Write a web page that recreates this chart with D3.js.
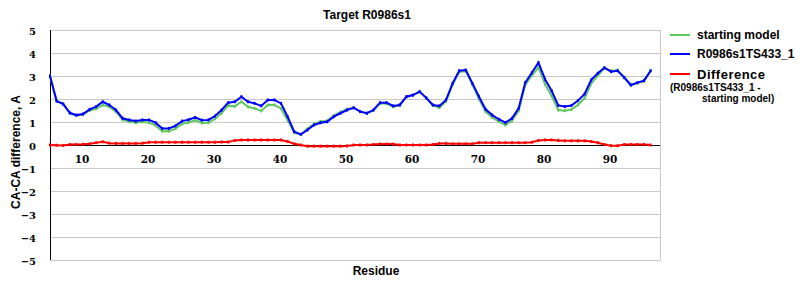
<!DOCTYPE html>
<html>
<head>
<meta charset="utf-8">
<script src="https://cdn.jsdelivr.net/npm/d3@7"></script>
<style>
    body { margin: 0; background: #fff; }
    .lbl { font-family: "Liberation Sans", Arial, sans-serif; font-weight: bold; }
    .tick { font-family: "DejaVu Serif", serif; font-weight: bold; font-size: 10px; }
</style>
</head>
<body>
<div id="chart"></div>
<script>
/* global d3 */
var firstResidue = 5;

var startingModel = [3.0, 1.92, 1.80, 1.38, 1.28, 1.32, 1.50, 1.57, 1.74, 1.66,
    1.45, 1.09, 1.02, 0.97, 1.01, 0.97, 0.85, 0.60, 0.60, 0.71,
    0.92, 0.98, 1.08, 0.96, 0.97, 1.14, 1.39, 1.71, 1.68, 1.88,
    1.66, 1.59, 1.48, 1.74, 1.74, 1.59, 1.08, 0.53, 0.46, 0.70,
    0.92, 1.02, 1.06, 1.28, 1.43, 1.56, 1.62, 1.45, 1.38, 1.50,
    1.80, 1.80, 1.66, 1.74, 2.10, 2.17, 2.32, 2.05, 1.72, 1.63,
    1.89, 2.63, 3.18, 3.21, 2.63, 2.00, 1.45, 1.20, 1.02, 0.87,
    1.06, 1.49, 2.61, 3.02, 3.38, 2.64, 2.14, 1.52, 1.49, 1.54,
    1.75, 2.04, 2.68, 3.02, 3.34, 3.22, 3.26, 2.92, 2.59, 2.69,
    2.78, 3.23];

var modelTS433 = [3.0, 1.91, 1.78, 1.40, 1.30, 1.35, 1.55, 1.67, 1.88, 1.74,
    1.52, 1.16, 1.09, 1.04, 1.09, 1.09, 0.97, 0.72, 0.72, 0.83,
    1.04, 1.10, 1.20, 1.08, 1.09, 1.26, 1.52, 1.84, 1.88, 2.10,
    1.88, 1.81, 1.70, 1.96, 1.96, 1.81, 1.23, 0.58, 0.46, 0.65,
    0.87, 0.97, 1.01, 1.23, 1.38, 1.52, 1.62, 1.45, 1.38, 1.52,
    1.84, 1.84, 1.70, 1.74, 2.10, 2.17, 2.32, 2.05, 1.74, 1.70,
    1.96, 2.68, 3.23, 3.26, 2.68, 2.10, 1.55, 1.30, 1.12, 0.97,
    1.16, 1.59, 2.71, 3.14, 3.58, 2.86, 2.36, 1.72, 1.67, 1.72,
    1.93, 2.22, 2.83, 3.12, 3.36, 3.19, 3.23, 2.94, 2.61, 2.71,
    2.80, 3.23];

var difference = [0.0, -0.01, -0.02, 0.02, 0.02, 0.03, 0.05, 0.10, 0.14, 0.08,
    0.07, 0.07, 0.07, 0.07, 0.08, 0.12, 0.12, 0.12, 0.12, 0.12,
    0.12, 0.12, 0.12, 0.12, 0.12, 0.12, 0.13, 0.13, 0.20, 0.22,
    0.22, 0.22, 0.22, 0.22, 0.22, 0.22, 0.15, 0.05, 0.0, -0.05,
    -0.05, -0.05, -0.05, -0.05, -0.05, -0.04, 0.0, 0.0, 0.0, 0.02,
    0.04, 0.04, 0.04, 0.0, 0.0, 0.0, 0.0, 0.0, 0.02, 0.07,
    0.07, 0.05, 0.05, 0.05, 0.05, 0.10, 0.10, 0.10, 0.10, 0.10,
    0.10, 0.10, 0.10, 0.12, 0.20, 0.22, 0.22, 0.20, 0.18, 0.18,
    0.18, 0.18, 0.15, 0.10, 0.02, -0.03, -0.03, 0.02, 0.02, 0.02,
    0.02, 0.0];

var xTicks = [10, 20, 30, 40, 50, 60, 70, 80, 90];
var yTicks = [5, 4, 3, 2, 1, 0, -1, -2, -3, -4, -5];

var seriesList = [
    {name: "starting model", values: startingModel, color: "#5fc95f"},
    {name: "R0986s1TS433_1", values: modelTS433, color: "#0000ff"},
    {name: "Difference", values: difference, color: "#ff0000"}
];

var width = 800, height = 300;
var svg = d3.select("#chart").append("svg")
        .attr("width", width)
        .attr("height", height);

var x = d3.scaleLinear()
        .domain([5, 97.42])
        .range([50, 660]);

var y = d3.scaleLinear()
        .domain([-5, 5])
        .range([260, 30]);

// grid
svg.append("g")
        .selectAll("line")
        .data(yTicks)
        .enter()
        .append("line")
        .attr("x1", 50)
        .attr("x2", 660)
        .attr("y1", function (d) { return y(d) + 0.5; })
        .attr("y2", function (d) { return y(d) + 0.5; })
        .attr("stroke", "#c8c8c8")
        .attr("stroke-width", 1);

svg.append("line")
        .attr("x1", 660.5).attr("x2", 660.5)
        .attr("y1", 30).attr("y2", 260)
        .attr("stroke", "#c8c8c8");

// zero line + y axis
svg.append("line")
        .attr("x1", 50).attr("x2", 660)
        .attr("y1", y(0) + 0.5).attr("y2", y(0) + 0.5)
        .attr("stroke", "#000");
svg.append("line")
        .attr("x1", 50.5).attr("x2", 50.5)
        .attr("y1", 30).attr("y2", 260)
        .attr("stroke", "#000");

// tick labels
svg.append("g")
        .selectAll("text")
        .data(yTicks)
        .enter()
        .append("text")
        .attr("class", "tick")
        .attr("x", 36)
        .attr("y", function (d) { return y(d) + 5; })
        .attr("text-anchor", "end")
        .text(function (d) { return d < 0 ? "\u2212" + (-d) : d; });

svg.append("g")
        .selectAll("text")
        .data(xTicks)
        .enter()
        .append("text")
        .attr("class", "tick")
        .style("font-size", "10.5px")
        .attr("x", function (d) { return x(d) - 1; })
        .attr("y", 163)
        .attr("text-anchor", "middle")
        .text(function (d) { return d; });

// lines
var line = d3.line()
        .x(function (d, i) { return x(firstResidue + i); })
        .y(function (d) { return y(d); });

seriesList.forEach(function (s) {
    svg.append("path")
            .datum(s.values)
            .attr("d", line)
            .attr("fill", "none")
            .attr("stroke", s.color)
            .attr("stroke-width", 2);
    svg.append("g")
            .selectAll("rect")
            .data(s.values)
            .enter()
            .append("rect")
            .attr("x", function (d, i) { return x(firstResidue + i) - 1; })
            .attr("y", function (d) { return y(d) - 1.5; })
            .attr("width", 2)
            .attr("height", 3)
            .attr("fill", s.color);
});

// titles
svg.append("text")
        .attr("class", "lbl")
        .attr("x", 367)
        .attr("y", 19)
        .attr("text-anchor", "middle")
        .style("font-size", "12px")
        .text("Target R0986s1");

svg.append("text")
        .attr("class", "lbl")
        .attr("x", 376)
        .attr("y", 275)
        .attr("text-anchor", "middle")
        .style("font-size", "12px")
        .text("Residue");

svg.append("text")
        .attr("class", "lbl")
        .attr("transform", "translate(20,152) rotate(-90)")
        .attr("text-anchor", "middle")
        .style("font-size", "12px")
        .text("CA-CA difference, A");

// legend
var legend = svg.append("g");
var legendY = [35, 54, 74];
var legendTextY = [39, 58, 79];
seriesList.forEach(function (s, i) {
    legend.append("line")
            .attr("x1", 670).attr("x2", 690)
            .attr("y1", legendY[i]).attr("y2", legendY[i])
            .attr("stroke", s.color)
            .attr("stroke-width", 2);
    legend.append("text")
            .attr("class", "lbl")
            .attr("x", 697)
            .attr("y", legendTextY[i])
            .style("font-size", i === 2 ? "13px" : "12px")
            .style("letter-spacing", i === 2 ? "0.5px" : "0px")
            .text(s.name);
});
legend.append("text")
        .attr("class", "lbl")
        .attr("x", 670)
        .attr("y", 91)
        .style("font-size", "10px")
        .text("(R0986s1TS433_1 -");
legend.append("text")
        .attr("class", "lbl")
        .attr("x", 702)
        .attr("y", 102)
        .style("font-size", "10px")
        .text("starting model)");
</script>
</body>
</html>
